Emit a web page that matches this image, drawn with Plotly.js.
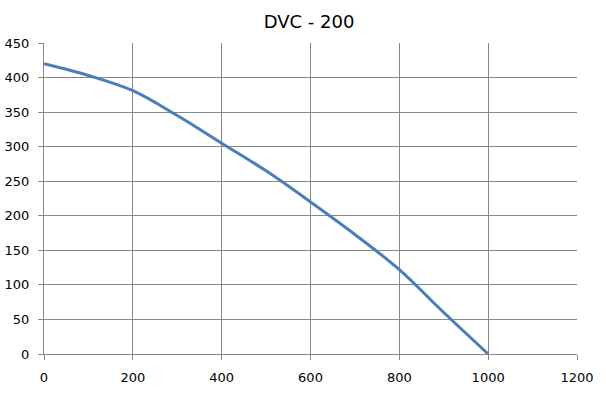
<!DOCTYPE html>
<html>
<head>
<meta charset="utf-8">
<script src="https://cdn.plot.ly/plotly-3.0.1.min.js"></script>
<style>html,body{margin:0;padding:0;background:#fff;}#chart{width:606px;height:394px;}</style>
</head>
<body>
<div id="chart"></div>
<script>
const flow = [0, 100, 200, 300, 400, 500, 600, 700, 800, 900, 1000];
const pressure = [420, 403, 381, 345, 305, 265, 220, 173, 122, 60, 0];
const chartTitle = "DVC - 200";

const gridColor = "#878787";
const fontFamily = "DejaVu Sans, Verdana, sans-serif";

Plotly.newPlot("chart", [{
  x: flow,
  y: pressure,
  type: "scatter",
  mode: "lines",
  line: {color: "#4a7ebb", width: 3, shape: "spline", smoothing: 1},
  hoverinfo: "skip"
}], {
  width: 606,
  height: 394,
  margin: {l: 44, r: 29, t: 43, b: 40},
  paper_bgcolor: "#ffffff",
  plot_bgcolor: "#ffffff",
  showlegend: false,
  title: {text: chartTitle, x: 0.51, xanchor: "center", y: 0.945, yanchor: "middle",
          font: {family: fontFamily, size: 18, color: "#000000"}},
  xaxis: {
    range: [0, 1200], tick0: 0, dtick: 200, fixedrange: true,
    showgrid: true, gridcolor: gridColor, gridwidth: 1,
    showline: true, linecolor: gridColor, linewidth: 1, mirror: false,
    zeroline: false, ticks: "outside", ticklen: 5, tickcolor: gridColor,
    ticklabelstandoff: 6,
    tickfont: {family: fontFamily, size: 13, color: "#000000"}
  },
  yaxis: {
    range: [0, 450], tick0: 0, dtick: 50, fixedrange: true,
    showgrid: true, gridcolor: gridColor, gridwidth: 1,
    showline: true, linecolor: gridColor, linewidth: 1,
    zeroline: false, ticks: "outside", ticklen: 5, tickcolor: gridColor,
    ticklabelstandoff: 6,
    tickfont: {family: fontFamily, size: 13, color: "#000000"}
  }
}, {staticPlot: true});
</script>
</body>
</html>
